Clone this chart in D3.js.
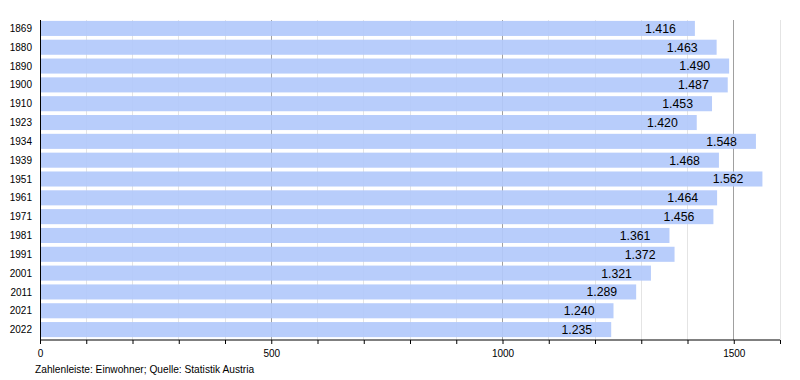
<!DOCTYPE html>
<html><head><meta charset="utf-8">
<script src="https://cdn.jsdelivr.net/npm/d3@7"></script>
<style>body{margin:0;background:#fff;}svg{display:block;font-family:"Liberation Sans",Arial,sans-serif;}</style>
</head><body>
<svg id="c" width="800" height="380"></svg>
<script>
const years = ["1869","1880","1890","1900","1910","1923","1934","1939","1951","1961","1971","1981","1991","2001","2011","2021","2022"];
const population = [1416,1463,1490,1487,1453,1420,1548,1468,1562,1464,1456,1361,1372,1321,1289,1240,1235];
const majorTicks = [0,500,1000,1500];
const caption = "Zahlenleiste: Einwohner; Quelle: Statistik Austria";

(function(){
const svg = d3.select("#c");
const x = d3.scaleLinear().domain([0,1600]).range([40,780]);
const y = d3.scaleBand().domain(years).range([19,339]).paddingInner(0.2).paddingOuter(0.1);
const plotTop = 20, plotBottom = 340;
const minorTicks = d3.range(100,1601,100).filter(v => v % 500 !== 0);

svg.append("g").selectAll("line").data(minorTicks).join("line")
  .attr("x1", d=>x(d)).attr("x2", d=>x(d)).attr("y1", plotTop).attr("y2", plotBottom)
  .attr("stroke", "#e4e4e4").attr("stroke-width", 1).attr("shape-rendering","crispEdges");

svg.append("g").selectAll("line").data(majorTicks.filter(d=>d>0)).join("line")
  .attr("x1", d=>x(d)).attr("x2", d=>x(d)).attr("y1", plotTop).attr("y2", plotBottom)
  .attr("stroke", "#a0a0a0").attr("stroke-width", 1).attr("shape-rendering","crispEdges");

svg.append("g").selectAll("rect").data(population).join("rect")
  .attr("x", x(0)).attr("y", (d,i)=>y(years[i]))
  .attr("width", d=>x(d)-x(0)).attr("height", y.bandwidth())
  .attr("fill", "#b3c9fb").attr("fill-opacity", 0.93);

const fmt = d3.formatLocale({decimal:",", thousands:".", grouping:[3], currency:["","€"]}).format(",d");
svg.append("g").selectAll("text").data(population).join("text")
  .attr("x", d=>x(d)-19).attr("y", (d,i)=>y(years[i])+y.bandwidth()/2)
  .attr("dy","0.36em").attr("text-anchor","end")
  .attr("font-size", 12.3).attr("fill","#000").text(d=>fmt(d));

svg.append("g").selectAll("text").data(years).join("text")
  .attr("x", 32).attr("y", d=>y(d)+y.bandwidth()/2).attr("dy","0.36em")
  .attr("text-anchor","end").attr("font-size", 10).attr("fill","#000").text(d=>d);

const xAxis = d3.axisBottom(x).tickValues(d3.range(0,1601,100)).tickSize(4)
  .tickFormat(d => majorTicks.includes(d) ? d : "");
const ga = svg.append("g").attr("transform", `translate(0,${plotBottom})`).call(xAxis);
ga.select(".domain").attr("stroke","#000").attr("d", `M${x(0)},0H${x(1600)}`);
ga.selectAll(".tick line").attr("stroke","#000");
ga.selectAll(".tick text").attr("font-size", 10).attr("fill","#000").attr("dy","1em")
  .attr("font-family","Liberation Sans, Arial, sans-serif");

svg.append("line").attr("x1", x(0)).attr("x2", x(0)).attr("y1", plotTop).attr("y2", plotBottom)
  .attr("stroke","#000").attr("shape-rendering","crispEdges");

svg.append("text").attr("x", 35).attr("y", 373).attr("font-size", 10.2).attr("fill","#000").text(caption);
})();
</script>
</body></html>
